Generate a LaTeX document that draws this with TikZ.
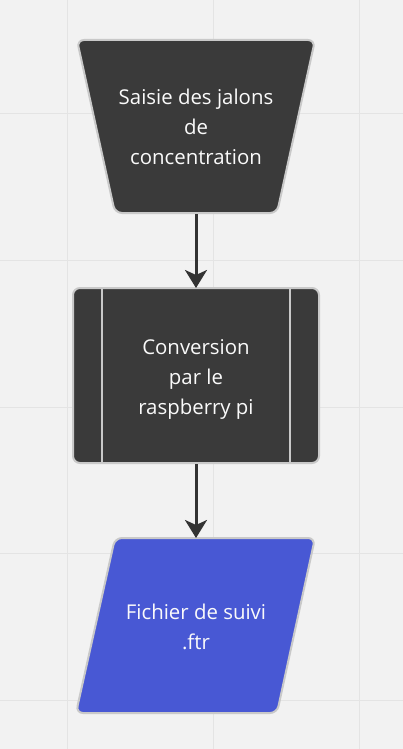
\documentclass[tikz,border=0pt]{standalone}
\usepackage{fontspec}
\setmainfont{Open Sans}
\usetikzlibrary{arrows.meta}
\definecolor{bg}{HTML}{F2F2F2}
\definecolor{gridc}{HTML}{E4E4E4}
\definecolor{dark}{HTML}{3A3A3A}
\definecolor{blueshape}{HTML}{4858D4}
\definecolor{edge}{HTML}{C9C9C9}
\definecolor{arrowc}{HTML}{333333}
\tikzset{
  shapebox/.style={draw=edge, line width=2pt, rounded corners=7pt, line join=round},
  txt/.style={text=white!96!gray, align=center, font=\fontsize{20.4}{30}\selectfont, inner sep=0pt},
  arr/.style={draw=arrowc, line width=3pt, -{Stealth[length=18pt,width=22pt,inset=5pt]}},
  gridline/.style={draw=gridc, line width=1pt}
}
\begin{document}
\begin{tikzpicture}[x=1pt,y=-1pt]
\fill[bg] (0,0) rectangle (403,749);
\useasboundingbox (0,0) rectangle (403,749);
\foreach \gx in {67,213,359} \draw[gridline] (\gx,0) -- (\gx,749);
\foreach \gy in {114,260,407,553,700} \draw[gridline] (0,\gy) -- (403,\gy);

% trapezoid
\draw[shapebox, fill=dark] (77,40) -- (315,40) -- (277,213) -- (115,213) -- cycle;
\node[txt] (saisie) at (196,127) {Saisie des jalons\\de\\concentration};

% process
\draw[shapebox, fill=dark] (73,288) rectangle (319,463);
\draw[draw=edge, line width=2pt] (102,289) -- (102,462);
\draw[draw=edge, line width=2pt] (290,289) -- (290,462);
\node[txt] (conv) at (196,379) {Conversion\\par le\\raspberry pi};

% parallelogram
\draw[shapebox, fill=blueshape] (115,538) -- (315,538) -- (277,713) -- (76,713) -- cycle;
\node[txt] (fich) at (196,627) {Fichier de suivi\\.ftr};

\coordinate (saisieB) at (196,214);
\coordinate (convT) at (196,288);
\coordinate (convB) at (196,464);
\coordinate (fichT) at (196,538);
\draw[arr] (saisieB) -- (convT);
\draw[arr] (convB) -- (fichT);
\end{tikzpicture}
\end{document}
